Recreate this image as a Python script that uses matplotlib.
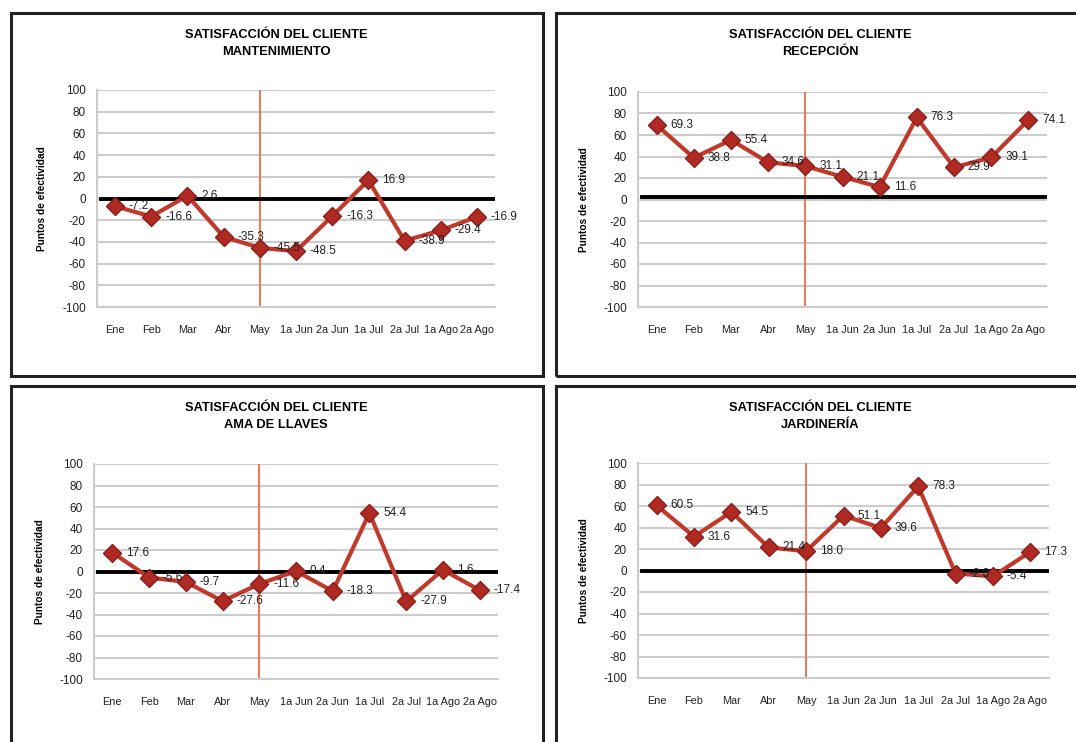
import matplotlib.pyplot as plt
from matplotlib.patches import Rectangle

#categories shared by the four charts
periodos = ['Ene', 'Feb', 'Mar', 'Abr', 'May', '1a Jun', '2a Jun', '1a Jul', '2a Jul', '1a Ago', '2a Ago']

#values of each area
mantenimiento = [-7.2, -16.6, 2.6, -35.3, -45.5, -48.5, -16.3, 16.9, -38.9, -29.4, -16.9]
recepcion = [69.3, 38.8, 55.4, 34.6, 31.1, 21.1, 11.6, 76.3, 29.9, 39.1, 74.1]
ama_de_llaves = [17.6, -5.6, -9.7, -27.6, -11.6, 0.4, -18.3, 54.4, -27.9, 1.6, -17.4]
jardineria = [60.5, 31.6, 54.5, 21.4, 18.0, 51.1, 39.6, 78.3, -2.8, -5.4, 17.3]

areas = ['MANTENIMIENTO', 'RECEPCIÓN', 'AMA DE LLAVES', 'JARDINERÍA']
series = [mantenimiento, recepcion, ama_de_llaves, jardineria]
metas = [0, 2, 0, 0]  #black reference line of each chart
corte = 'May'  #vertical marker
y_ticks = list(range(-100, 101, 20))

plt.rcParams['font.family'] = ['Liberation Sans', 'DejaVu Sans']
plt.rcParams['axes.unicode_minus'] = False

W, H = 1076, 742
fig = plt.figure(figsize=(W / 100, H / 100), dpi=100)

#pixel boxes: axes (left, top, right, bottom), frame (left, top, right, bottom), title center x, title top y
layout = [
  dict(ax=(97, 90, 495, 307), frame=(11, 13, 543, 376), tx=276, ty=29, lx=42),
  dict(ax=(638, 92, 1047, 307), frame=(556, 13, 1090, 376), tx=820, ty=29, lx=584),
  dict(ax=(94, 464, 498, 679), frame=(11, 386, 543, 760), tx=276, ty=402, lx=40),
  dict(ax=(638, 463, 1049, 678), frame=(556, 386, 1090, 760), tx=820, ty=402, lx=584),
]

def px_rect(l, t, r, b):
  return [l / W, 1 - b / H, (r - l) / W, (b - t) / H]

for area, valores, meta, lay in zip(areas, series, metas, layout):

  #black frame around each chart
  fl, ft, fr, fb = lay['frame']
  fig.patches.append(Rectangle((fl / W, 1 - fb / H), (fr - fl) / W, (fb - ft) / H,
                               transform=fig.transFigure, fill=False,
                               edgecolor='#222222', linewidth=2.2))

  ax = fig.add_axes(px_rect(*lay['ax']))
  x = list(range(len(periodos)))

  ax.set_ylim(-100, 100)
  ax.set_xlim(-0.5, len(periodos) - 0.5)
  ax.set_yticks(y_ticks)
  ax.set_xticks(x)
  ax.set_xticklabels(periodos)
  ax.yaxis.grid(True, color='#cccccc', linewidth=1.5)
  ax.set_axisbelow(True)
  ax.tick_params(length=0, colors='#222222')
  ax.tick_params(axis='y', pad=8, labelsize=8.5)
  ax.tick_params(axis='x', pad=13, labelsize=7.8)
  for s in ['top', 'right']:
    ax.spines[s].set_visible(False)
  for s in ['left', 'bottom']:
    ax.spines[s].set_color('#cccccc')
    ax.spines[s].set_linewidth(1.5)

  #vertical marker and reference line
  ax.axvline(periodos.index(corte), color='#f26a45', linewidth=1.3, zorder=2)
  ax.axhline(meta, xmin=0.01, xmax=1, color='black', linewidth=2.8, zorder=3)

  ax.plot(x, valores, color='#c0392b', linewidth=3, marker='D', markersize=9.5,
          markerfacecolor='#b02a24', markeredgecolor='#8e1c18', zorder=4)

  #value labels to the right of each point
  for xi, v in zip(x, valores):
    ax.annotate(f'{v:.1f}', (xi, v), xytext=(10, 0), textcoords='offset points',
                ha='left', va='center', fontsize=8.5, color='#222222',
                annotation_clip=False, zorder=5)

  fig.text(lay['lx'] / W, 1 - ((lay['ax'][1] + lay['ax'][3]) / 2) / H, 'Puntos de efectividad',
           rotation=90, ha='center', va='center', fontsize=7.3, fontweight='bold')

  fig.text(lay['tx'] / W, 1 - lay['ty'] / H, 'SATISFACCIÓN DEL CLIENTE\n' + area,
           ha='center', va='top', fontsize=9.3, fontweight='bold', linespacing=1.55)

fig.savefig('out.png', dpi=100, facecolor='white')
